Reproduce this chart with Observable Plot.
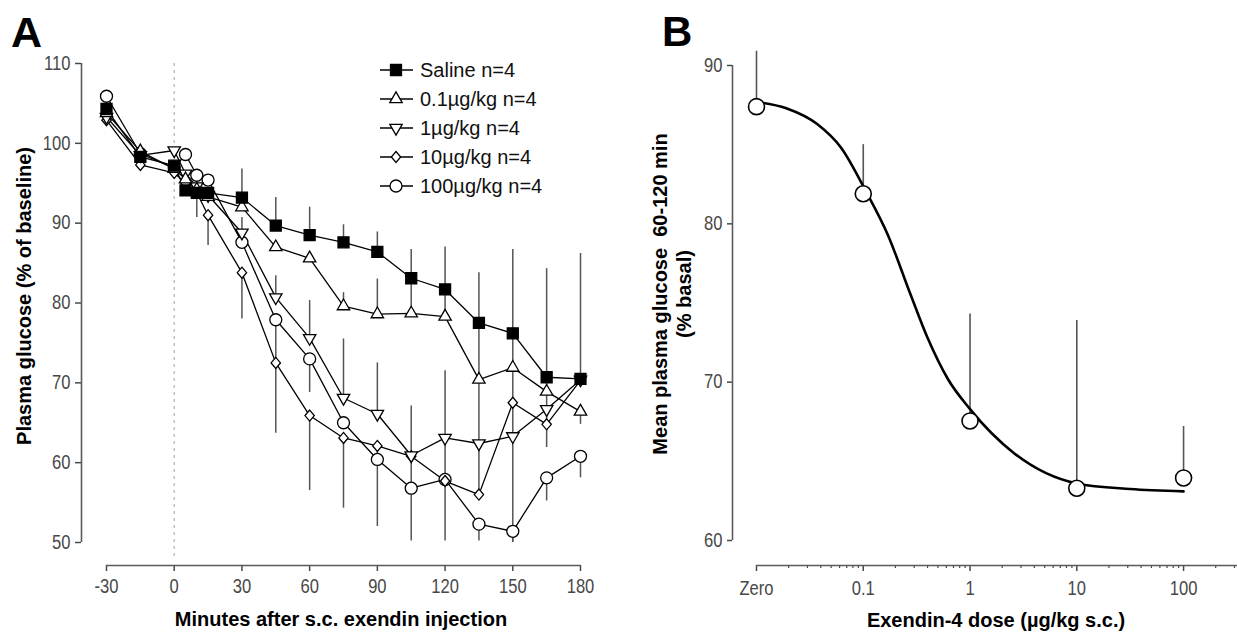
<!DOCTYPE html>
<html>
<head>
<meta charset="utf-8">
<script src="https://cdn.jsdelivr.net/npm/d3@7"></script>
<script src="https://cdn.jsdelivr.net/npm/@observablehq/plot@0.6"></script>
<style>
html, body { margin: 0; padding: 0; background: #fff; }
#fig { position: relative; width: 1237px; height: 633px; overflow: hidden; background: #fff;
       font-family: "Liberation Sans", Arial, sans-serif; }
#fig > svg { position: absolute; top: 0; }
</style>
</head>
<body>
<div id="fig"></div>
<script>
// ---------------- Panel A data ----------------
const times = [-30, -15, 0, 5, 10, 15, 30, 45, 60, 75, 90, 105, 120, 135, 150, 165, 180];
const xTicksA = [-30, 0, 30, 60, 90, 120, 150, 180];
const yTicksA = [50, 60, 70, 80, 90, 100, 110];
const injectionTime = 0;

const salineMean  = [104.3, 98.3, 97.2, 94.1, 93.8, 93.8, 93.2, 89.7, 88.5, 87.6, 86.4, 83.1, 81.7, 77.5, 76.2, 70.7, 70.5];
const salineUp    = [0, 0, 0, 0, 0, 0, 3.6, 3.5, 3.5, 2.2, 2.5, 3.6, 5.3, 6.3, 10.5, 13.6, 15.7];
const salineDown  = [0, 0, 0, 0, 0, 0, 0, 0, 0, 0, 0, 0, 0, 0, 0, 0, 0];

const dose01Mean  = [103.8, 99.0, 96.8, 95.5, 94.2, 93.3, 92.0, 87.0, 85.6, 79.6, 78.6, 78.7, 78.3, 70.4, 71.9, 68.9, 66.4];
const dose01Up    = [0, 0, 0, 0, 0, 0, 0, 0, 0, 1.7, 4.4, 4.4, 4.0, 7.1, 4.3, 1.8, 0];
const dose01Down  = [0, 0, 0, 0, 3.5, 0, 0, 0, 0, 0, 0, 0, 0, 0, 0, 0, 1.6];

const dose1Mean   = [103.3, 98.5, 99.1, 96.2, 94.6, 93.5, 88.8, 80.7, 75.6, 68.1, 66.1, 60.9, 63.1, 62.4, 63.3, 66.7, 70.4];
const dose1Up     = [0, 0, 0, 0, 0, 0, 1.9, 2.7, 4.7, 7.4, 6.4, 6.2, 8.4, 8.0, 4.2, 2.2, 0];
const dose1Down   = [0, 0, 0, 0, 0, 0, 0, 0, 0, 0, 0, 0, 0, 0, 13.3, 0, 0];

const dose10Mean  = [102.9, 97.3, 96.3, 95.0, 93.8, 91.0, 83.8, 72.5, 65.9, 63.1, 62.1, 60.8, 57.7, 56.0, 67.5, 64.8, 70.3];
const dose10Up    = [0, 0, 0, 0, 0, 0, 0, 0, 0, 0, 0, 0, 0, 6.4, 4.4, 1.9, 0];
const dose10Down  = [0, 0, 0, 0, 0, 3.8, 5.8, 8.8, 9.4, 8.8, 10.1, 10.6, 7.5, 0, 0, 2.9, 0];

const dose100Mean = [105.9, 98.7, 96.9, 98.6, 96.0, 95.4, 87.6, 77.9, 73.0, 65.0, 60.4, 56.8, 57.9, 52.3, 51.4, 58.1, 60.8];
const dose100Up   = [0, 0, 0, 0, 0, 0, 0, 0, 0, 0, 0, 0, 5.2, 0, 0, 0, 0];
const dose100Down = [0, 0, 0, 0, 0, 0, 0, 5.4, 4.2, 0, 0, 0, 0, 2.1, 1.3, 2.9, 2.7];

const seriesNames = ["Saline n=4", "0.1\u00b5g/kg n=4", "1\u00b5g/kg n=4", "10\u00b5g/kg n=4", "100\u00b5g/kg n=4"];

// ---------------- Panel B data ----------------
const doseValues = [0.01, 0.1, 1, 10, 100];
const doseLabels = ["Zero", "0.1", "1", "10", "100"];
const doseMax = 320;
const meanGlucose = [87.4, 81.9, 67.55, 63.3, 63.95];
const meanGlucoseUp = [3.5, 3.1, 6.75, 10.6, 3.25];
const yTicksB = [60, 70, 80, 90];
// fitted curve, points
const fitDose  = [0.01, 0.019, 0.037, 0.062, 0.105, 0.17, 0.275, 0.4, 0.62, 1, 2.6, 10, 31.6, 100];
const fitValue = [87.7, 87.3, 86.3, 84.8, 82.1, 79.3, 75.6, 72.8, 70.2, 68.3, 65.5, 63.6, 63.25, 63.1];

// ---------------- symbols ----------------
const triDown = {
  draw(ctx, size) {
    const y = Math.sqrt(size / (3 * Math.sqrt(3)));
    ctx.moveTo(0, 2 * y);
    ctx.lineTo(-Math.sqrt(3) * y, -y);
    ctx.lineTo(Math.sqrt(3) * y, -y);
    ctx.closePath();
  }
};
const rhomb = {
  draw(ctx, size) {
    const h = Math.sqrt(size) * 0.69, w = h * 0.85;
    ctx.moveTo(0, -h); ctx.lineTo(w, 0); ctx.lineTo(0, h); ctx.lineTo(-w, 0); ctx.closePath();
  }
};

const series = [
  {name: seriesNames[0], mean: salineMean,  up: salineUp,  down: salineDown,  symbol: d3.symbolSquare,   fill: "black", r: 6.2},
  {name: seriesNames[1], mean: dose01Mean,  up: dose01Up,  down: dose01Down,  symbol: d3.symbolTriangle, fill: "white", r: 4.6},
  {name: seriesNames[2], mean: dose1Mean,   up: dose1Up,   down: dose1Down,   symbol: triDown,           fill: "white", r: 4.6},
  {name: seriesNames[3], mean: dose10Mean,  up: dose10Up,  down: dose10Down,  symbol: rhomb,             fill: "white", r: 4.5},
  {name: seriesNames[4], mean: dose100Mean, up: dose100Up, down: dose100Down, symbol: d3.symbolCircle,   fill: "white", r: 6.0}
];

const rows = series.flatMap(s => times.map((t, i) => ({series: s.name, t, v: s.mean[i], up: s.up[i], down: s.down[i]})));
const bRows = doseValues.map((d, i) => ({dose: d, mean: meanGlucose[i], up: meanGlucoseUp[i]}));
const fitRows = fitDose.map((d, i) => ({dose: d, v: fitValue[i]}));

const tickFont = 19.5;
const plotStyle = {fontSize: tickFont + "px", fontFamily: "'Liberation Sans', Arial, sans-serif", color: "#484848",
                   background: "transparent", overflow: "visible"};
const barStyle = {stroke: "#555", strokeWidth: 1.5};
const axisLine = {stroke: "#5a5a5a", strokeWidth: 1.6};
const plainNum = d => String(d);

// ---------------- Panel A ----------------
const insetA = {left: 25, bottom: 23};
const plotA = Plot.plot({
  width: 620, height: 633,
  marginLeft: 81, marginRight: 40, marginTop: 63, marginBottom: 68,
  x: {domain: [times[0], times[times.length - 1]], insetLeft: insetA.left, label: null},
  y: {domain: [yTicksA[0], yTicksA[yTicksA.length - 1]], insetBottom: insetA.bottom, label: null},
  style: plotStyle,
  marks: [
    Plot.ruleX([injectionTime], {y1: yTicksA[yTicksA.length - 1], y2: 48, stroke: "#b5b5b5", strokeWidth: 1.3, strokeDasharray: "3,4"}),
    Plot.ruleX(rows.filter(d => d.up > 0), {x: "t", y1: "v", y2: d => d.v + d.up, ...barStyle}),
    Plot.ruleX(rows.filter(d => d.down > 0), {x: "t", y1: "v", y2: d => d.v - d.down, ...barStyle}),
    Plot.line(rows, {x: "t", y: "v", z: "series", stroke: "black", strokeWidth: 1.3}),
    ...series.slice().reverse().map(s =>
      Plot.dot(rows.filter(d => d.series === s.name), {x: "t", y: "v", symbol: s.symbol, r: s.r,
        fill: s.fill, stroke: "black", strokeWidth: 1.3})),
    Plot.axisY({ticks: yTicksA, tickFormat: plainNum, tickSize: 6, tickPadding: 5, strokeWidth: 1.5}),
    Plot.axisX({ticks: xTicksA, tickFormat: plainNum, tickSize: 6, tickPadding: 8, strokeWidth: 1.5}),
    Plot.ruleY([yTicksA[0]], {x1: times[0], x2: times[times.length - 1], dy: insetA.bottom, ...axisLine}),
    Plot.ruleX([times[0]], {y1: yTicksA[0], y2: yTicksA[yTicksA.length - 1], dx: -insetA.left, ...axisLine})
  ]
});

// ---------------- Panel B ----------------
const insetB = {left: 24, bottom: 25};
const logScale = d3.scaleLog().domain([doseValues[0], doseMax]);
const minorTicks = logScale.ticks().filter(v => !doseValues.some(m => Math.abs(m - v) / m < 1e-6));
const plotB = Plot.plot({
  width: 617, height: 633,
  marginLeft: 112, marginRight: 0, marginTop: 65, marginBottom: 68,
  x: {type: "log", domain: [doseValues[0], doseMax], insetLeft: insetB.left, label: null},
  y: {domain: [yTicksB[0], yTicksB[yTicksB.length - 1]], insetBottom: insetB.bottom, label: null},
  style: plotStyle,
  marks: [
    Plot.ruleX(bRows, {x: "dose", y1: "mean", y2: d => d.mean + d.up, stroke: "#555", strokeWidth: 1.6}),
    Plot.line(fitRows, {x: "dose", y: "v", curve: "monotone-x", stroke: "black", strokeWidth: 2.6}),
    Plot.dot(bRows, {x: "dose", y: "mean", r: 8, fill: "white", stroke: "black", strokeWidth: 1.6}),
    Plot.axisY({ticks: yTicksB, tickFormat: plainNum, tickSize: 5, tickPadding: 5, strokeWidth: 1.5}),
    Plot.axisX({ticks: doseValues, tickFormat: d => doseLabels[doseValues.indexOf(d)], tickSize: 6, tickPadding: 10, strokeWidth: 1.5}),
    Plot.axisX({ticks: minorTicks, tickFormat: () => "", tickSize: 3, strokeWidth: 1.2}),
    Plot.ruleY([yTicksB[0]], {x1: doseValues[0], x2: doseMax, dy: insetB.bottom, ...axisLine}),
    Plot.ruleX([doseValues[0]], {y1: yTicksB[0], y2: yTicksB[yTicksB.length - 1], dx: -insetB.left, ...axisLine})
  ]
});

const fig = document.getElementById("fig");
plotA.style.left = "0px";
plotB.style.left = "620px";
fig.appendChild(plotA);
fig.appendChild(plotB);

// narrow tick labels (Helvetica Narrow look), keeping every offset Plot set
function condense(svg) {
  d3.select(svg).selectAll('g[aria-label$="tick label"] text').each(function () {
    let pre = "";
    for (const a of ["x", "y"]) {
      const v = this.getAttribute(a);
      if (v != null && v !== "" && !isNaN(+v)) {
        pre += a === "x" ? ` translate(${+v},0)` : ` translate(0,${+v})`;
        this.removeAttribute(a);
      }
    }
    const t = this.getAttribute("transform") || "";
    this.setAttribute("transform", `${t}${pre} scale(0.85,1)`);
    this.style.fontSize = tickFont + "px";
  });
}
condense(plotA);
condense(plotB);

// ---------------- overlay: panel letters, titles, legend ----------------
const ov = d3.select(fig).append("svg")
  .attr("width", 1237).attr("height", 633)
  .style("left", "0px").style("pointer-events", "none")
  .style("font-family", "'Liberation Sans', Arial, sans-serif");

ov.append("text").attr("x", 11).attr("y", 47).attr("font-size", 43).attr("font-weight", "bold").text("A");
ov.append("text").attr("x", 662).attr("y", 46).attr("font-size", 42).attr("font-weight", "bold").text("B");

const titleSize = 20;
ov.append("text").attr("x", 341).attr("y", 626).attr("text-anchor", "middle")
  .attr("font-size", titleSize).attr("font-weight", "bold").text("Minutes after s.c. exendin injection");
ov.append("text").attr("transform", "translate(31,296) rotate(-90)").attr("text-anchor", "middle")
  .attr("font-size", titleSize).attr("font-weight", "bold").text("Plasma glucose (% of baseline)");
ov.append("text").attr("x", 996).attr("y", 627).attr("text-anchor", "middle")
  .attr("font-size", titleSize).attr("font-weight", "bold").text("Exendin-4 dose (\u00b5g/kg s.c.)");
ov.append("text").attr("transform", "translate(667,294) rotate(-90)").attr("text-anchor", "middle")
  .attr("font-size", titleSize).attr("font-weight", "bold").text("Mean plasma glucose\u00a0 60-120 min");
ov.append("text").attr("transform", "translate(691,294) rotate(-90)").attr("text-anchor", "middle")
  .attr("font-size", titleSize).attr("font-weight", "bold").text("(% basal)");

// legend
const legendX = 380, legendTop = 70, legendGap = 29;
series.forEach((s, i) => {
  const y = legendTop + i * legendGap;
  const g = ov.append("g");
  g.append("line").attr("x1", legendX).attr("x2", legendX + 33).attr("y1", y).attr("y2", y)
    .attr("stroke", "black").attr("stroke-width", 1.3);
  g.append("path").attr("d", d3.symbol(s.symbol, Math.PI * s.r * s.r)())
    .attr("transform", `translate(${legendX + 16},${y})`)
    .attr("fill", s.fill).attr("stroke", "black").attr("stroke-width", 1.3);
  g.append("text").attr("x", legendX + 40).attr("y", y + 7).attr("font-size", 20).attr("fill", "#111").text(s.name);
});
</script>
</body>
</html>
